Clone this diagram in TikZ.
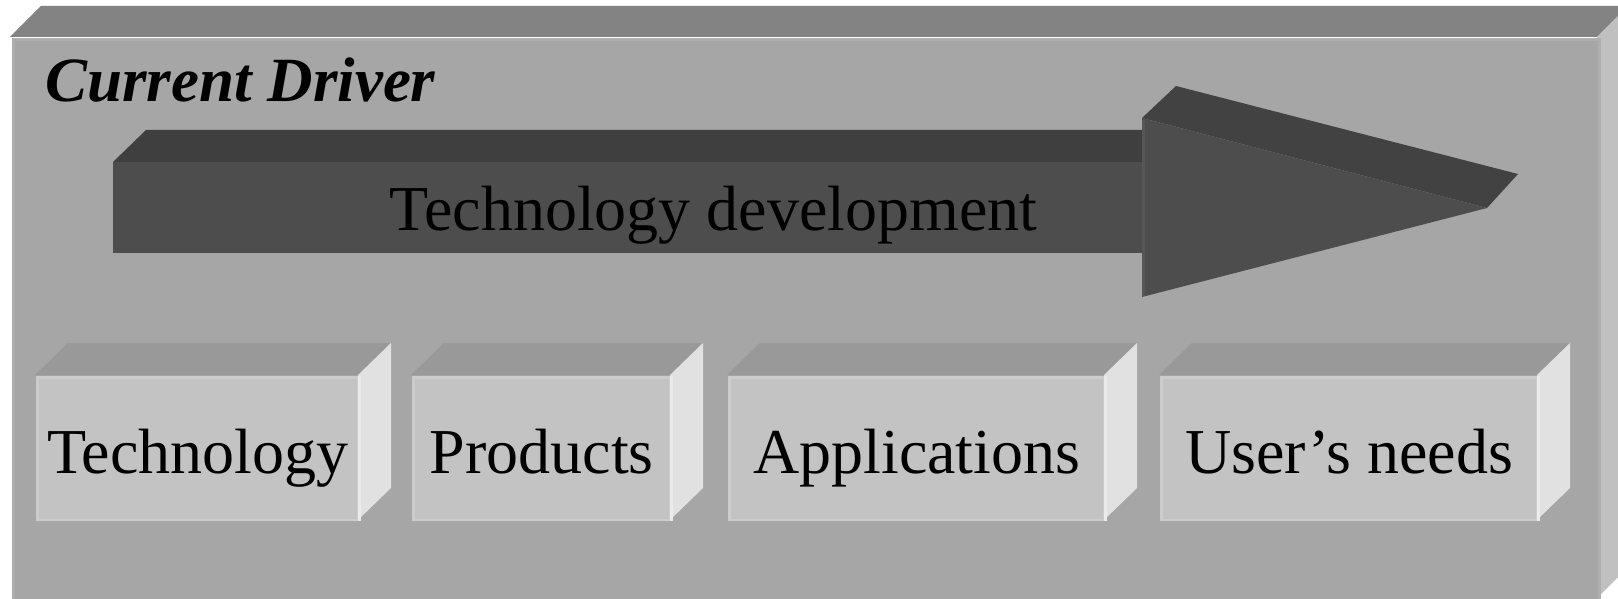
\documentclass[tikz,border=0pt]{standalone}
\usepackage{fontspec}
\setmainfont{Liberation Serif}
\usetikzlibrary{calc}
\definecolor{bigfront}{HTML}{A6A6A6}
\definecolor{bigtop}{HTML}{838383}
\definecolor{bigside}{HTML}{C0C0C0}
\definecolor{bigedge}{HTML}{AEAEAE}
\definecolor{smfront}{HTML}{C3C3C3}
\definecolor{smtop}{HTML}{999999}
\definecolor{smside}{HTML}{E1E1E1}
\definecolor{smedge}{HTML}{CCCCCC}
\definecolor{smhigh}{HTML}{EBEBEB}
\definecolor{arfront}{HTML}{4D4D4D}
\definecolor{artop}{HTML}{3F3F3F}
\definecolor{arheadtop}{HTML}{424242}
\definecolor{aredge}{HTML}{565656}
\tikzset{
  bigtxt/.style={font=\fontsize{64}{70}\selectfont, inner sep=0pt, text=black},
  frontbox/.style={rectangle, anchor=north west, inner sep=0pt, fill=smfront,
    draw=smedge, line width=2.5pt, text height=50pt, text depth=0pt,
    font=\fontsize{64}{70}\selectfont},
}
\begin{document}
\begin{tikzpicture}[x=1pt,y=-1pt]
\useasboundingbox (0,0) rectangle (1618,599);
\fill[white] (0,0) rectangle (1618,599);
\begin{scope}
\clip (0,0) rectangle (1618,599);
% big box
\fill[bigtop] (10,37) -- (41,6) -- (1628,6) -- (1597,37) -- cycle;
\fill[bigside] (1597,37) -- (1628,6) -- (1628,567) -- (1597,598) -- cycle;
\node[rectangle, anchor=north west, inner sep=0pt, fill=bigfront, draw=bigedge,
  line width=3pt, minimum width=1586pt, minimum height=560pt] (frame) at (11.5,38.5) {};
\end{scope}
\node[bigtxt, anchor=base west, font=\fontsize{63}{70}\selectfont\bfseries\itshape] (title) at (45,102) {Current Driver};
% arrow
\fill[artop] (113,162) -- (146,130) -- (1142,130) -- (1142,162) -- cycle;
\node[rectangle, anchor=north west, inner sep=0pt, fill=arfront, minimum width=1029pt,
  minimum height=91pt] (body) at (113,162) {};
\fill[arheadtop] (1142,118) -- (1176,86) -- (1518,174) -- (1487,208) -- cycle;
\coordinate (htop) at (1142,118);
\coordinate (htip) at (1487,208);
\coordinate (hbot) at (1142,297);
\fill[arfront] (htop) -- (htip) -- (hbot) -- cycle;
\draw[aredge, line width=3pt] ($(htop)+(1.5,2)$) -- ($(hbot)+(1.5,-1)$);
\node[bigtxt, anchor=base] (dev) at (713.5,230) {Technology development};
% small boxes
\foreach \n/\xa/\xb/\t in {tech/35/358/Technology, prod/411/670/Products,
    appl/727/1104/Applications, user/1159/1537/User’s needs}{
  \pgfmathsetmacro\w{\xb-\xa-2.5}
  \fill[smtop] (\xa,375) -- (\xa+33,343) -- (\xb+33,343) -- (\xb,375) -- cycle;
  \fill[smside] (\xb,375) -- (\xb+33,343) -- (\xb+33,488) -- (\xb,520) -- cycle;
  \node[frontbox, minimum width=\w pt, minimum height=142.5pt] (\n) at (\xa+1.25,376.25) {\t};
  \draw[smhigh, line width=3pt] (\n.north east) -- (\n.south east);
}
\end{tikzpicture}
\end{document}
